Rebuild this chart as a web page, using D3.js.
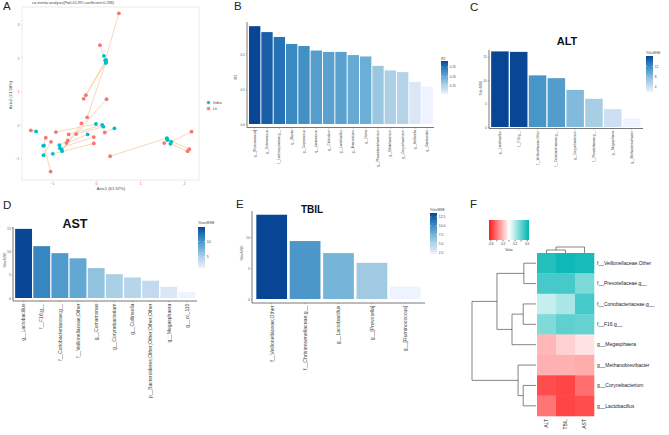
<!DOCTYPE html>
<html><head><meta charset="utf-8">
<script src="https://cdn.jsdelivr.net/npm/d3@7"></script>
<style>body{margin:0;background:#fff}svg{display:block;font-family:"Liberation Sans",Arial,sans-serif}</style>
</head><body><script>
// ---------- Panel A data (co-inertia) ----------
const aIndexX = [0.21,0.18,0.23,0.23,0.22,-0.78,-0.77,0.00,0.14,0.17,0.42,-0.19,-0.82,-0.83,-0.98,-1.19,-1.36,-1.20,-1.18,1.61,1.71,1.63,1.69,1.61];
const aIndexY = [1.93,2.06,1.88,1.94,1.85,-0.73,-0.78,0.03,0.00,-0.05,-0.10,-0.28,-0.69,-0.60,-0.86,-0.90,-0.19,-0.62,-0.61,-0.39,-0.50,-0.45,-0.56,-0.42];
const aLitX = [0.52,0.09,-0.23,-0.28,-0.20,0.24,-0.33,-0.91,-0.62,-0.45,0.20,-0.67,-0.05,-0.64,-0.05,-1.02,-1.48,-1.14,-1.03,0.32,2.17,1.55,2.08,2.12];
const aLitY = [3.33,2.38,0.89,0.78,0.23,0.77,0.05,-0.21,-0.28,-0.27,-0.22,-0.54,-0.36,-0.46,-0.55,-0.50,-0.16,-0.38,-1.39,-0.93,-0.20,-0.54,-0.78,-0.72];
const aXTicks = [-1,0,1,2];
const aYTicks = [-1,0,1,2,3];
const aLegend = ["Index","Lit"];

// ---------- Panel B ----------
const bCats = ["g__[Ruminococcus]","g__Enterococcus","f__Lachnospiraceae;g__","g__Blautia","g__Coprococcus","g__Lactococcus","g__Clostridium","g__Lactobacillus","g__Anaerostipes","g__Dorea","g__Phascolarctobacterium","g__Bifidobacterium","g__Corynebacterium","g__Veillonella","g__Bacteroides"];
const bVals = [0.281,0.264,0.250,0.230,0.224,0.211,0.207,0.207,0.198,0.194,0.167,0.154,0.149,0.121,0.107];
const bTicks = [0,0.1,0.2];
const bLegTicks = [0.15,0.20,0.25];

// ---------- Panel C (ALT) ----------
const cCats = ["g__Lactobacillus","f__F16;g__","f__Veillonellaceae;Other","f__Coriobacteriaceae;g__","g__Corynebacterium","f__Prevotellaceae;g__","g__Megasphaera","g__Methanobrevibacter"];
const cVals = [16.1,16.0,11.0,10.4,7.9,6.0,3.8,1.8];
const cTicks = [0,5,10,15];
const cLegTicks = [4,8,12];

// ---------- Panel D (AST) ----------
const dCats = ["g__Lactobacillus","f__F16;g__","f__Coriobacteriaceae;g__","f__Veillonellaceae;Other","g__Comamonas","g__Corynebacterium","g__Collinsella","p__Bacteroidetes;Other;Other;Other;Other","g__Megasphaera","g__cc_115"];
const dVals = [14.8,11.1,9.6,8.5,6.4,5.1,4.4,3.7,2.4,1.3];
const dTicks = [0,5,10,15];
const dLegTicks = [5,10];

// ---------- Panel E (TBIL) ----------
const eCats = ["f__Veillonellaceae;Other","f__Christensenellaceae;g__","g__Lactobacillus","g__[Prevotella]","g__[Ruminococcus]"];
const eVals = [13.6,9.35,7.4,5.84,2.0];
const eTicks = [0,5,10];
const eLegTicks = [2.5,5.0,7.5,10.0,12.5];

// ---------- Panel F (heatmap) ----------
const fCols = ["ALT","TBIL","AST"];
const fRows = ["f__Veillonellaceae.Other","f__Prevotellaceae.g__","f__Coriobacteriaceae.g__","f__F16.g__","g__Megasphaera","g__Methanobrevibacter","g__Corynebacterium","g__Lactobacillus"];
const fValues = [
  [0.57,0.62,0.60],
  [0.48,0.48,0.34],
  [0.15,0.22,0.48],
  [0.33,0.42,0.40],
  [-0.21,-0.13,-0.08],
  [-0.23,-0.23,-0.24],
  [-0.52,-0.54,-0.42],
  [-0.40,-0.54,-0.52]
];
const fKeyTicks = [-0.6,-0.4,-0.2,0,0.2,0.4,0.6];
const fKeyLabels = [-0.6,-0.2,0.2,0.6];

// ================= drawing =================
const W = 669, H = 435;
const svg = d3.select("body").append("svg").attr("width",W).attr("height",H);
svg.append("rect").attr("width",W).attr("height",H).attr("fill","#fff");
const defs = svg.append("defs");
const bluesRamp = d3.piecewise(d3.interpolateLab, ["#EFF3FF","#C6DBEF","#9ECAE1","#6BAED6","#4292C6","#2171B5","#084594"]);

// panel letters
[["A",3,10],["B",234,10],["C",470,11],["D",3,209],["E",236,208],["F",470,208]].forEach(([t,x,y])=>{
  svg.append("text").attr("x",x).attr("y",y).attr("font-size",11.5).attr("fill","#222").text(t);
});

// ---------- Panel A ----------
(function(){
  const g = svg.append("g");
  const x = d3.scaleLinear().domain([-1.68,2.34]).range([22,199]);
  const y = d3.scaleLinear().domain([-1.64,3.52]).range([180,7]);
  g.append("rect").attr("x",22).attr("y",7).attr("width",177).attr("height",173).attr("fill","#fff").attr("stroke","#dcdcdc").attr("stroke-width",0.6);
  g.append("text").attr("x",32).attr("y",4.3).attr("font-size",3.9).attr("fill","#444").text("co-inertia analysis(P=0.01,RV coefficient:0.238)");
  const xa = g.append("g").attr("transform","translate(0,180)").call(d3.axisBottom(x).tickValues(aXTicks).tickSize(1.2).tickFormat(d3.format("d")));
  xa.select(".domain").remove();
  xa.selectAll("line").attr("stroke","#bbb").attr("stroke-width",0.4);
  xa.selectAll("text").attr("font-size",3.8).attr("fill","#d35f5f").attr("y",2.2).attr("dy","0.71em");
  const ya = g.append("g").attr("transform","translate(22,0)").call(d3.axisLeft(y).tickValues(aYTicks).tickSize(1.2).tickFormat(d3.format("d")));
  ya.select(".domain").remove();
  ya.selectAll("line").attr("stroke","#bbb").attr("stroke-width",0.4);
  ya.selectAll("text").attr("font-size",3.8).attr("fill","#d35f5f").attr("x",-2.5);
  g.append("text").attr("x",111).attr("y",190).attr("text-anchor","middle").attr("font-size",4.2).attr("fill","#444").text("Axis1 (61.57%)");
  g.append("text").attr("transform","translate(11.5,95) rotate(-90)").attr("text-anchor","middle").attr("font-size",4.2).attr("fill","#444").text("Axis2 (21.58%)");
  g.selectAll("line.pair").data(aIndexX).join("line").attr("class","pair")
    .attr("x1",(d,i)=>x(aIndexX[i])).attr("y1",(d,i)=>y(aIndexY[i]))
    .attr("x2",(d,i)=>x(aLitX[i])).attr("y2",(d,i)=>y(aLitY[i]))
    .attr("stroke","#F5C49C").attr("stroke-width",0.7);
  g.selectAll("circle.lit").data(aLitX).join("circle").attr("class","lit")
    .attr("cx",(d,i)=>x(aLitX[i])).attr("cy",(d,i)=>y(aLitY[i])).attr("r",1.9).attr("fill","#F8766D");
  g.selectAll("circle.idx").data(aIndexX).join("circle").attr("class","idx")
    .attr("cx",(d,i)=>x(aIndexX[i])).attr("cy",(d,i)=>y(aIndexY[i])).attr("r",1.9).attr("fill","#00BFC4");
  const legCols = ["#00BFC4","#F8766D"];
  aLegend.forEach((t,i)=>{
    g.append("rect").attr("x",206).attr("y",100+i*6).attr("width",5).attr("height",5).attr("fill","#f2f2f2");
    g.append("circle").attr("cx",208.5).attr("cy",102.5+i*6).attr("r",1.6).attr("fill",legCols[i]);
    g.append("text").attr("x",213).attr("y",104+i*6).attr("font-size",3.6).attr("fill","#444").text(t);
  });
})();

// ---------- generic bar panel ----------
let gradCount = 0;
function colorbar(o){
  const id = "grad"+(gradCount++);
  const lg = defs.append("linearGradient").attr("id",id).attr("x1",0).attr("x2",0).attr("y1",1).attr("y2",0);
  d3.range(0,1.0001,0.1).forEach(t=>lg.append("stop").attr("offset",t).attr("stop-color",bluesRamp(t)));
  svg.append("text").attr("x",o.x).attr("y",o.ty).attr("font-size",o.tfs).attr("fill","#444").text(o.title);
  svg.append("rect").attr("x",o.x).attr("y",o.y0).attr("width",o.w).attr("height",o.y1-o.y0).attr("fill",`url(#${id})`);
  const s = d3.scaleLinear().domain([o.lo,o.hi]).range([o.y1,o.y0]);
  o.ticks.forEach(v=>{
    svg.append("line").attr("x1",o.x).attr("x2",o.x+1.3).attr("y1",s(v)).attr("y2",s(v)).attr("stroke","#fff").attr("stroke-width",0.4);
    svg.append("line").attr("x1",o.x+o.w-1.3).attr("x2",o.x+o.w).attr("y1",s(v)).attr("y2",s(v)).attr("stroke","#fff").attr("stroke-width",0.4);
  });
  const ax = svg.append("g").attr("transform",`translate(${o.x+o.w},0)`).call(d3.axisRight(s).tickValues(o.ticks).tickSize(0).tickFormat(o.fmt));
  ax.select(".domain").remove();
  ax.selectAll("text").attr("font-size",o.lfs).attr("fill","#444").attr("x",1.8);
}

function barPanel(o){
  const g = svg.append("g");
  const x = d3.scaleBand().domain(o.cats).range(o.xr).paddingInner(o.pad).paddingOuter(o.pad/2);
  const y = d3.scaleLinear().domain([0,o.ymax]).range([o.base,o.top]);
  const [lo,hi] = d3.extent(o.vals);
  g.selectAll("rect.bar").data(o.vals).join("rect").attr("class","bar")
    .attr("x",(d,i)=>x(o.cats[i])).attr("width",x.bandwidth())
    .attr("y",d=>y(d)).attr("height",d=>y(0)-y(d))
    .attr("fill",d=>bluesRamp((d-lo)/(hi-lo)));
  const ya = g.append("g").attr("transform",`translate(${o.ax},0)`).call(d3.axisLeft(y).tickValues(o.ticks).tickSize(1.3).tickFormat(o.fmt));
  ya.select(".domain").remove();
  ya.selectAll("line").attr("stroke","#666").attr("stroke-width",0.4);
  ya.selectAll("text").attr("font-size",o.tfs).attr("fill","#555").attr("x",-2.2);
  g.append("line").attr("x1",o.ax).attr("x2",o.ax).attr("y1",o.top).attr("y2",o.axY).attr("stroke","#555").attr("stroke-width",0.8);
  const xa = g.append("g").attr("transform",`translate(0,${o.axY})`).call(d3.axisBottom(x).tickSize(1.3));
  xa.select(".domain").remove();
  xa.selectAll("line").attr("stroke","#666").attr("stroke-width",0.4);
  xa.selectAll("text").attr("font-size",o.lfs).attr("fill","#444")
    .attr("transform","rotate(-90)").attr("text-anchor","end").attr("x",-2.6).attr("y",0).attr("dy","0.35em");
  g.append("line").attr("x1",o.ax).attr("x2",o.ax1).attr("y1",o.axY).attr("y2",o.axY).attr("stroke","#555").attr("stroke-width",0.8);
  g.append("text").attr("transform",`translate(${o.ytX},${o.ytY}) rotate(-90)`).attr("text-anchor","middle").attr("font-size",o.ytfs).attr("fill","#444").text(o.ytitle);
  if(o.title) g.append("text").attr("x",o.titleX).attr("y",o.titleY).attr("text-anchor","middle").attr("font-size",o.titleFs).attr("font-weight","bold").attr("fill","#111").text(o.title);
  colorbar(Object.assign({lo,hi},o.leg));
}

// B
barPanel({cats:bCats,vals:bVals,xr:[248.5,433.5],pad:0.08,ymax:0.293,base:124,top:22,ax:247,ax1:434,axY:127.5,
  ticks:bTicks,fmt:d3.format(".1f"),tfs:3.2,lfs:3.1,ytitle:"R2",ytX:237,ytY:77,ytfs:3.8,
  leg:{x:441,y0:61,y1:94,w:7,ty:59.5,title:"R2",tfs:3.6,ticks:bLegTicks,fmt:d3.format(".2f"),lfs:3.1}});
// C
barPanel({cats:cCats,vals:cVals,xr:[490.5,641],pad:0.07,ymax:16.4,base:127,top:50,ax:489,ax1:643,axY:128.5,
  ticks:cTicks,fmt:d3.format("d"),tfs:3.2,lfs:3.1,ytitle:"%IncMSE",ytX:482,ytY:88,ytfs:3.3,
  title:"ALT",titleX:567,titleY:45,titleFs:11,
  leg:{x:646,y0:56,y1:92,w:7,ty:53.5,title:"%IncMSE",tfs:3.3,ticks:cLegTicks,fmt:d3.format("d"),lfs:3.1}});
// D
barPanel({cats:dCats,vals:dVals,xr:[14.5,196],pad:0.07,ymax:15.2,base:298,top:227,ax:13,ax1:197,axY:301,
  ticks:dTicks,fmt:d3.format("d"),tfs:3.4,lfs:5.0,ytitle:"%IncMSE",ytX:6,ytY:260,ytfs:3.4,
  title:"AST",titleX:75,titleY:227.5,titleFs:12.5,
  leg:{x:198,y0:227,y1:268,w:7,ty:224,title:"%incMSE",tfs:3.8,ticks:dLegTicks,fmt:d3.format("d"),lfs:3.6}});
// E
barPanel({cats:eCats,vals:eVals,xr:[255,422],pad:0.08,ymax:14.2,base:299,top:211,ax:252,ax1:425,axY:303,
  ticks:eTicks,fmt:d3.format("d"),tfs:3.4,lfs:5.2,ytitle:"%IncMSE",ytX:243,ytY:253,ytfs:3.4,
  title:"TBIL",titleX:312,titleY:213,titleFs:10,
  leg:{x:430,y0:213,y1:254,w:7,ty:211,title:"%IncMSE",tfs:3.4,ticks:eLegTicks,fmt:d3.format(".1f"),lfs:3.3}});

// ---------- Panel F heatmap ----------
(function(){
  const g = svg.append("g");
  const x = d3.scaleBand().domain(fCols).range([537,594]);
  const y = d3.scaleBand().domain(fRows).range([253,416]);
  const col = d3.scaleLinear().domain([-0.66,0,0.66]).range(["#ff1c1c","#ffffff","#00b5b3"]).clamp(true);
  fRows.forEach((r,i)=>{
    fCols.forEach((c,j)=>{
      g.append("rect").attr("x",x(c)).attr("y",y(r)).attr("width",x.bandwidth()+0.3).attr("height",y.bandwidth()+0.3).attr("fill",col(fValues[i][j]));
    });
    g.append("text").attr("x",597).attr("y",y(r)+y.bandwidth()/2).attr("dy","0.35em").attr("font-size",5).attr("fill","#222").text(r);
  });
  fCols.forEach(c=>{
    g.append("text").attr("transform",`translate(${x(c)+x.bandwidth()/2},419) rotate(-90)`).attr("text-anchor","end").attr("dy","0.35em").attr("font-size",5).attr("fill","#222").text(c);
  });
  const rowTree = {h:1.0,c:[{h:0.61,c:[{h:0.19,c:[0,1]},{h:0.375,c:[{h:0.2,c:[2,3]},4]}]},{h:0.28,c:[5,{h:0.2,c:[6,7]}]}]};
  const hx = d3.scaleLinear().domain([0,1]).range([536,472]);
  const dl = (x1,y1,x2,y2)=>g.append("line").attr("x1",x1).attr("y1",y1).attr("x2",x2).attr("y2",y2).attr("stroke","#333").attr("stroke-width",0.6);
  function drawRow(n){
    if(typeof n==="number") return {p:y(fRows[n])+y.bandwidth()/2,h:0};
    const a = drawRow(n.c[0]), b = drawRow(n.c[1]);
    dl(hx(n.h),a.p,hx(n.h),b.p);
    dl(hx(n.h),a.p,hx(a.h),a.p);
    dl(hx(n.h),b.p,hx(b.h),b.p);
    return {p:(a.p+b.p)/2,h:n.h};
  }
  drawRow(rowTree);
  const colTree = {h:1.0,c:[{h:0.5,c:[0,1]},2]};
  const hy = d3.scaleLinear().domain([0,1]).range([253,247]);
  function drawCol(n){
    if(typeof n==="number") return {p:x(fCols[n])+x.bandwidth()/2,h:0};
    const a = drawCol(n.c[0]), b = drawCol(n.c[1]);
    dl(a.p,hy(n.h),b.p,hy(n.h));
    dl(a.p,hy(n.h),a.p,hy(a.h));
    dl(b.p,hy(n.h),b.p,hy(b.h));
    return {p:(a.p+b.p)/2,h:n.h};
  }
  drawCol(colTree);
  const kid = "fkey";
  const lg = defs.append("linearGradient").attr("id",kid);
  d3.range(0,1.0001,0.05).forEach(t=>lg.append("stop").attr("offset",t).attr("stop-color",col(-0.66+1.32*t)));
  g.append("rect").attr("x",489).attr("y",220).attr("width",40).attr("height",20).attr("fill",`url(#${kid})`);
  const kx = d3.scaleLinear().domain([-0.66,0.66]).range([489,529]);
  fKeyTicks.forEach(v=>dl(kx(v),240,kx(v),241.5));
  fKeyLabels.forEach(v=>g.append("text").attr("x",kx(v)).attr("y",245).attr("text-anchor","middle").attr("font-size",3).attr("fill","#333").text(v));
  g.append("text").attr("x",509).attr("y",250.5).attr("text-anchor","middle").attr("font-size",3).attr("fill","#333").text("Value");
})();
</script></body></html>
